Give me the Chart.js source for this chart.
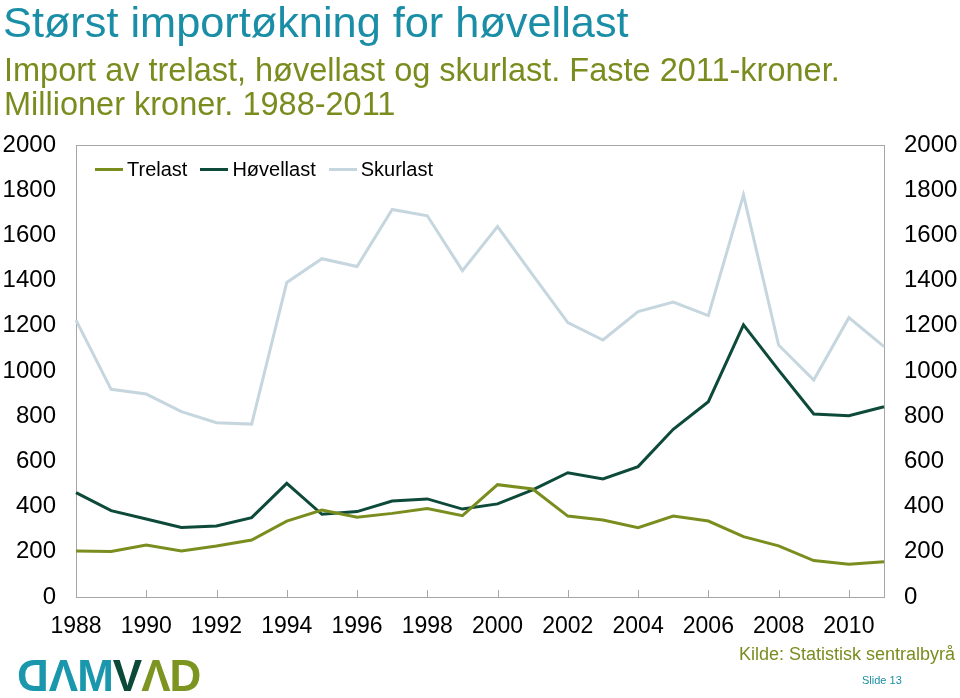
<!DOCTYPE html>
<html>
<head>
<meta charset="utf-8">
<script src="https://cdn.jsdelivr.net/npm/chart.js@4"></script>
<style>
  html, body { margin: 0; padding: 0; background: #fff; }
  body { width: 960px; height: 698px; position: relative; overflow: hidden; font-family: "Liberation Sans", Arial, sans-serif; }
  #wrap { position: absolute; left: 0; top: 0; width: 960px; height: 698px; }
  .t { position: absolute; white-space: nowrap; line-height: 1; }
  #title { left: 3px; top: 1px; font-size: 43.3px; color: #1a8ea6; }
  #sub1 { left: 4px; top: 54px; font-size: 32.5px; color: #7b8c1f; }
  #sub2 { left: 4px; top: 88px; font-size: 32.5px; color: #7b8c1f; }
  #legend { position: absolute; left: 95px; top: 157px; height: 24px; font-size: 20px; color: #000; display: flex; align-items: center; }
  .li { display: flex; align-items: center; margin-right: 13px; }
  .sw { width: 28px; height: 3px; margin-right: 4px; }
  #kilde { right: 5px; top: 645px; font-size: 18px; color: #7b8c1f; }
  #slide { left: 862px; top: 675px; font-size: 11px; color: #1a8ea6; }
  #logo { position: absolute; left: 18px; top: 654px; font-size: 44px; font-weight: bold; letter-spacing: -1px; line-height: 1; font-family: "Liberation Sans", Arial, sans-serif; }
  #logo span { display: inline-block; }
</style>
</head>
<body>
<div id="wrap"><canvas id="c" width="960" height="698"></canvas></div>
<div class="t" id="title">Størst importøkning for høvellast</div>
<div class="t" id="sub1">Import av trelast, høvellast og skurlast. Faste 2011-kroner.</div>
<div class="t" id="sub2">Millioner kroner. 1988-2011</div>
<div id="legend"></div>
<div class="t" id="kilde">Kilde: Statistisk sentralbyrå</div>
<div class="t" id="slide">Slide 13</div>
<div id="logo"><span style="color:#1b97ad;transform:scaleX(-1)">D</span><span style="color:#1b97ad">Λ</span><span style="color:#1b97ad">M</span><span style="color:#0b4a38">V</span><span style="color:#7c9420">Λ</span><span style="color:#7c9420">D</span></div>
<script>
const years = ["1988","1989","1990","1991","1992","1993","1994","1995","1996","1997","1998","1999","2000","2001","2002","2003","2004","2005","2006","2007","2008","2009","2010","2011"];
const trelast = [204,201,230,204,226,252,336,385,353,370,392,360,497,478,358,341,307,358,336,267,226,161,145,156];
const hovellast = [462,382,345,308,314,351,503,366,378,425,434,389,412,474,550,522,577,742,864,1204,1004,810,802,842];
const skurlast = [1225,919,898,820,771,765,1392,1497,1462,1715,1687,1444,1639,1425,1214,1137,1263,1305,1245,1779,1115,960,1236,1108];
const seriesNames = ["Trelast","Høvellast","Skurlast"];
const seriesColors = ["#7a8e1f","#0d4a3a","#c6d6df"];
const yTicks = [0,200,400,600,800,1000,1200,1400,1600,1800,2000];

// HTML legend
const lg = document.getElementById('legend');
seriesNames.forEach((n, i) => {
  const d = document.createElement('div'); d.className = 'li';
  const s = document.createElement('div'); s.className = 'sw'; s.style.background = seriesColors[i];
  const t = document.createElement('span'); t.textContent = n;
  d.appendChild(s); d.appendChild(t); lg.appendChild(d);
});

const frameColor = '#a6a6a6';
const framePlugin = {
  id: 'frame',
  beforeDatasetsDraw(chart) {
    const a = chart.chartArea, ctx = chart.ctx, xs = chart.scales.x;
    ctx.save();
    ctx.strokeStyle = frameColor; ctx.lineWidth = 1;
    ctx.strokeRect(Math.round(a.left) + 0.5, Math.round(a.top) + 0.5, Math.round(a.right - a.left), Math.round(a.bottom - a.top));
    ctx.beginPath();
    years.forEach((y, i) => {
      if (i % 2 === 0) {
        const px = Math.round(xs.getPixelForTick(i)) + 0.5;
        ctx.moveTo(px, a.bottom); ctx.lineTo(px, a.bottom - 7);
      }
    });
    ctx.stroke();
    ctx.restore();
  }
};

const yCommon = (pos) => ({
  position: pos,
  min: 0, max: 2000,
  afterBuildTicks: (s) => { s.ticks = yTicks.map(v => ({ value: v })); },
  grid: { display: false },
  border: { display: false },
  ticks: { color: '#000', font: { family: 'Liberation Sans', size: 24 }, padding: 12, callback: (v) => String(v) },
  afterFit: (s) => { s.width = 76; }
});

new Chart(document.getElementById('c'), {
  type: 'line',
  data: {
    labels: years,
    datasets: [
      { label: seriesNames[0], data: trelast, borderColor: seriesColors[0], borderWidth: 3, pointRadius: 0, tension: 0, yAxisID: 'y' },
      { label: seriesNames[1], data: hovellast, borderColor: seriesColors[1], borderWidth: 3, pointRadius: 0, tension: 0, yAxisID: 'y' },
      { label: seriesNames[2], data: skurlast, borderColor: seriesColors[2], borderWidth: 3, pointRadius: 0, tension: 0, yAxisID: 'y' }
    ]
  },
  options: {
    responsive: false,
    animation: false,
    layout: { padding: { top: 145, bottom: 46, left: 0, right: 0 } },
    plugins: { legend: { display: false }, tooltip: { enabled: false } },
    scales: {
      x: {
        offset: false,
        grid: { display: false },
        border: { display: false },
        ticks: {
          autoSkip: false, maxRotation: 0, minRotation: 0,
          color: '#000', font: { family: 'Liberation Sans', size: 23 }, padding: 8,
          callback: function(v, i) { return i % 2 === 0 ? this.getLabelForValue(v) : ''; }
        },
        afterFit: (s) => { s.height = 55; }
      },
      y: yCommon('left'),
      y2: yCommon('right')
    }
  },
  plugins: [framePlugin]
});
</script>
</body>
</html>
